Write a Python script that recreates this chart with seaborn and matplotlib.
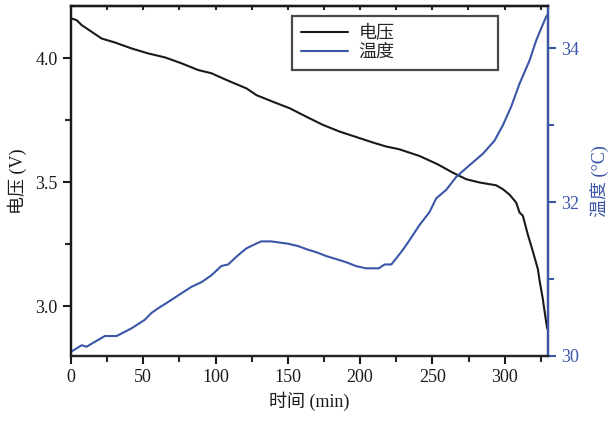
import numpy as np
import pandas as pd
import matplotlib
matplotlib.use("Agg")
import matplotlib.pyplot as plt
from matplotlib.ticker import MultipleLocator
import seaborn as sns

# ---- data ----
v_time = [0, 0.9, 3.9, 7.4, 14.3, 21.2, 30.4, 41.9, 53.4, 65, 76.5, 88, 97.2, 106,
          112, 121.4, 128.3, 139.8, 151.3, 162.8, 174.3, 185.9, 197.4, 208.9, 218,
          227, 241, 253.8, 264, 273.5, 282.7, 289.6, 294, 298.8, 303.4, 308, 310.3,
          312.6, 316, 319.5, 323, 324, 326.4, 328.7, 329.5]
voltage = [4.16, 4.159, 4.153, 4.133, 4.106, 4.079, 4.063, 4.039, 4.019, 4.003, 3.979,
           3.952, 3.939, 3.916, 3.901, 3.878, 3.851, 3.824, 3.798, 3.764, 3.731, 3.704,
           3.682, 3.66, 3.644, 3.633, 3.606, 3.572, 3.539, 3.512, 3.499, 3.492, 3.488,
           3.472, 3.45, 3.418, 3.378, 3.365, 3.29, 3.222, 3.15, 3.11, 3.03, 2.937, 2.91]

t_time = [0.5, 7.4, 10.8, 14.3, 23.5, 31.6, 41.9, 51, 55.7, 60.3, 69.5, 77.6, 83.4,
          90.3, 97.2, 104, 108.7, 115.6, 121.4, 128, 131.6, 138.5, 150, 157, 162.7,
          169.6, 176.5, 183.4, 190.3, 197, 204, 213, 217, 221.6, 225, 229.6, 234, 241,
          248, 252.7, 259.6, 266.6, 275.7, 285, 293, 298.8, 304.5, 310.3, 317.2, 321.8,
          325.3, 328.7, 329.8]
temperature = [30.06, 30.14, 30.12, 30.16, 30.26, 30.26, 30.36, 30.47, 30.56, 30.62,
               30.73, 30.83, 30.9, 30.96, 31.05, 31.17, 31.19, 31.31, 31.4, 31.46, 31.49,
               31.49, 31.46, 31.43, 31.39, 31.35, 31.3, 31.26, 31.22, 31.17, 31.14, 31.14,
               31.19, 31.19, 31.27, 31.38, 31.5, 31.7, 31.87, 32.05, 32.16, 32.33, 32.48,
               32.63, 32.8, 33.0, 33.24, 33.54, 33.84, 34.1, 34.26, 34.41, 34.44]

v_label = "电压"
t_label = "温度"
x_title = "时间 (min)"
yl_title = "电压 (V)"
yr_title = "温度 (°C)"

BLUE = "#3a56a6"
BLACK = "#1a1a1a"

sns.set_theme(style="ticks")
plt.rcParams["font.family"] = ["Liberation Serif", "Noto Sans CJK SC", "DejaVu Sans"]
plt.rcParams["axes.linewidth"] = 1.6

fig = plt.figure(figsize=(6.09, 4.25), dpi=100)
ax = fig.add_axes([71/609, 1-356/425, 477/609, 350/425])
ax2 = ax.twinx()

dv = pd.DataFrame({"t": v_time, "v": voltage})
dt = pd.DataFrame({"t": t_time, "T": temperature})
sns.lineplot(data=dv, x="t", y="v", ax=ax, color=BLACK, lw=1.5, label=v_label, legend=False)
sns.lineplot(data=dt, x="t", y="T", ax=ax2, color=BLUE, lw=1.5, label=t_label, legend=False)

ax.set_xlim(0, 330)
ax.set_ylim(2.8, 4.21)
ax2.set_ylim(30, 34.55)

ax.xaxis.set_major_locator(MultipleLocator(50))
ax.xaxis.set_minor_locator(MultipleLocator(25))
ax.yaxis.set_major_locator(MultipleLocator(0.5))
ax.yaxis.set_minor_locator(MultipleLocator(0.25))
ax2.yaxis.set_major_locator(MultipleLocator(2))
ax2.yaxis.set_minor_locator(MultipleLocator(1))
ax.yaxis.set_major_formatter(matplotlib.ticker.FormatStrFormatter("%.1f"))

ax.tick_params(axis="both", which="major", direction="out", length=6, width=1.5,
               labelsize=13, colors=BLACK)
ax.tick_params(axis="both", which="minor", direction="out", length=4, width=1.5)
ax2.tick_params(axis="y", which="major", direction="out", length=6, width=1.5,
                labelsize=13, colors=BLUE)
ax2.tick_params(axis="y", which="minor", direction="out", length=4, width=1.5, colors=BLUE)

# top mirrored ticks
top = ax.secondary_xaxis("top")
top.xaxis.set_major_locator(MultipleLocator(50))
top.xaxis.set_minor_locator(MultipleLocator(25))
top.tick_params(which="both", direction="in", length=3, width=1.5, labeltop=False)

for s in ["left", "bottom", "top"]:
    ax.spines[s].set_color(BLACK)
ax2.spines["right"].set_color(BLUE)
ax2.spines["right"].set_linewidth(1.6)
ax2.spines["left"].set_color(BLACK)
ax2.spines["top"].set_color(BLACK)

ax.set_xlabel(x_title, fontsize=13, color=BLACK, labelpad=4)
ax.set_ylabel(yl_title, fontsize=13, color=BLACK, labelpad=6)
ax2.set_ylabel(yr_title, fontsize=13, color=BLUE, labelpad=8)

lines = ax.get_lines() + ax2.get_lines()
leg = ax.legend(lines, [v_label, t_label], loc="upper left",
                bbox_to_anchor=(0.463, 0.803, 0.432, 0.168), mode="expand",
                fontsize=13, frameon=True, fancybox=False, handlelength=2.6,
                handletextpad=0.6, borderpad=0.5, labelspacing=0.1,
                borderaxespad=0)
leg.get_frame().set_edgecolor(BLACK)
leg.get_frame().set_linewidth(1.6)

fig.savefig("out.png", dpi=100)
